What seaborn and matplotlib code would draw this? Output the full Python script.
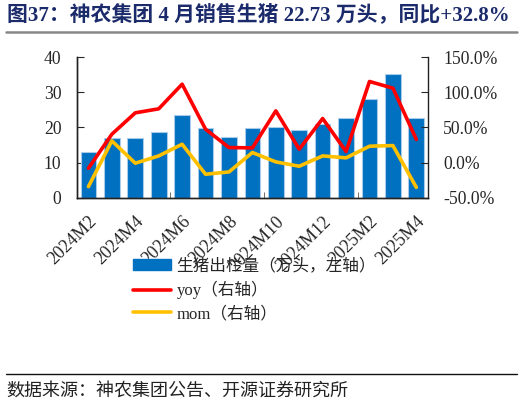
import numpy as np
import pandas as pd
import matplotlib
matplotlib.use("Agg")
import matplotlib.pyplot as plt
import seaborn as sns
from matplotlib.patches import Patch
from matplotlib.lines import Line2D
from matplotlib.ticker import FuncFormatter

months = ["2024M2", "2024M3", "2024M4", "2024M5", "2024M6", "2024M7", "2024M8",
          "2024M9", "2024M10", "2024M11", "2024M12", "2025M1", "2025M2", "2025M3", "2025M4"]
sales = [12.9, 16.9, 17.0, 18.6, 23.6, 19.7, 17.3, 19.8, 20.1, 19.3, 21.0, 22.7, 28.0, 35.2, 22.73]
yoy = [-8.2, 40.3, 70.7, 76.4, 111.5, 47.4, 21.3, 20.8, 73.5, 18.9, 62.6, 15.6, 115.3, 105.8, 32.8]
mom = [-34.3, 30.8, -1.0, 9.4, 26.0, -16.7, -13.4, 14.2, 0.9, -5.3, 9.4, 6.6, 23.2, 24.1, -35.4]

title = "图37：神农集团 4 月销售生猪 22.73 万头，同比+32.8%"
source = "数据来源：神农集团公告、开源证券研究所"
bar_label = "生猪出栏量（万头，左轴）"
yoy_label = "yoy（右轴）"
mom_label = "mom（右轴）"

sns.set_style("ticks")
plt.rcParams["font.family"] = ["Liberation Serif", "Noto Sans CJK SC", "DejaVu Sans"]

df = pd.DataFrame({"month": months, "sales": sales, "yoy": yoy, "mom": mom})
df["idx"] = np.arange(len(df))

fig = plt.figure(figsize=(5.22, 4.05), dpi=100)
ax = fig.add_axes([0.147, 0.512, 0.673, 0.347])

BLUE = "#0070C0"
RED = "#FF0000"
YEL = "#FFC000"

sns.barplot(data=df, x="month", y="sales", order=months, color=BLUE, ax=ax,
            width=0.67, edgecolor="#A9CBEA", linewidth=0.8, saturation=1)
ax.set_ylim(0, 40)
ax.set_xlim(-0.5, len(months) - 0.5)
ax.set_yticks([0, 10, 20, 30, 40])
ax.set_xlabel("")
ax.set_ylabel("")

ax2 = ax.twinx()
sns.lineplot(data=df, x="idx", y="yoy", color=RED, linewidth=2.6, ax=ax2)
sns.lineplot(data=df, x="idx", y="mom", color=YEL, linewidth=2.6, ax=ax2)
ax2.set_ylim(-50, 150)
ax2.set_yticks([-50, 0, 50, 100, 150])
ax2.yaxis.set_major_formatter(FuncFormatter(lambda v, p: f"{v:.1f}%"))
ax2.set_xlim(-0.5, len(months) - 0.5)
ax2.set_xlabel("")
ax2.set_ylabel("")

ax.set_xticks(np.arange(0, len(months), 2))
ax.set_xticklabels(months[::2], rotation=45, ha="right", rotation_mode="anchor")
ax.set_xticks([3.5, 7.5, 11.5], minor=True)
ax.tick_params(axis="x", which="major", length=0, pad=11, labelsize=13)
ax.tick_params(axis="x", which="minor", length=4, direction="in", color="#555555")
ax.tick_params(axis="y", direction="in", length=5, labelsize=12.7, pad=11)
ax2.tick_params(axis="y", direction="in", length=5, labelsize=12.7, pad=11)

for a in (ax, ax2):
    a.spines["top"].set_visible(False)
    for s in ("left", "right", "bottom"):
        a.spines[s].set_color("#222222")
        a.spines[s].set_linewidth(1.0)
ax.spines["right"].set_visible(False)

handles = [Patch(facecolor=BLUE, edgecolor=BLUE),
           Line2D([0], [0], color=RED, lw=2.6),
           Line2D([0], [0], color=YEL, lw=2.6)]
fig.legend(handles, [bar_label, yoy_label, mom_label], loc="upper left",
           bbox_to_anchor=(0.255, 0.362), frameon=False, fontsize=12,
           handlelength=2.3, handleheight=0.6, handletextpad=0.3, labelspacing=0.4,
           borderpad=0, borderaxespad=0)

fig.text(0.013, 0.965, title, fontsize=15, fontweight="bold", color="#1B2A6B",
         va="center", ha="left")
fig.add_artist(Line2D([0.012, 0.99], [0.921, 0.921], color="#888888", lw=1.8))
fig.add_artist(Line2D([0.012, 0.99], [0.076, 0.076], color="#111111", lw=1.0))
fig.text(0.013, 0.033, source, fontsize=13, color="#222222", va="center", ha="left")

fig.savefig("out.png", dpi=100)
